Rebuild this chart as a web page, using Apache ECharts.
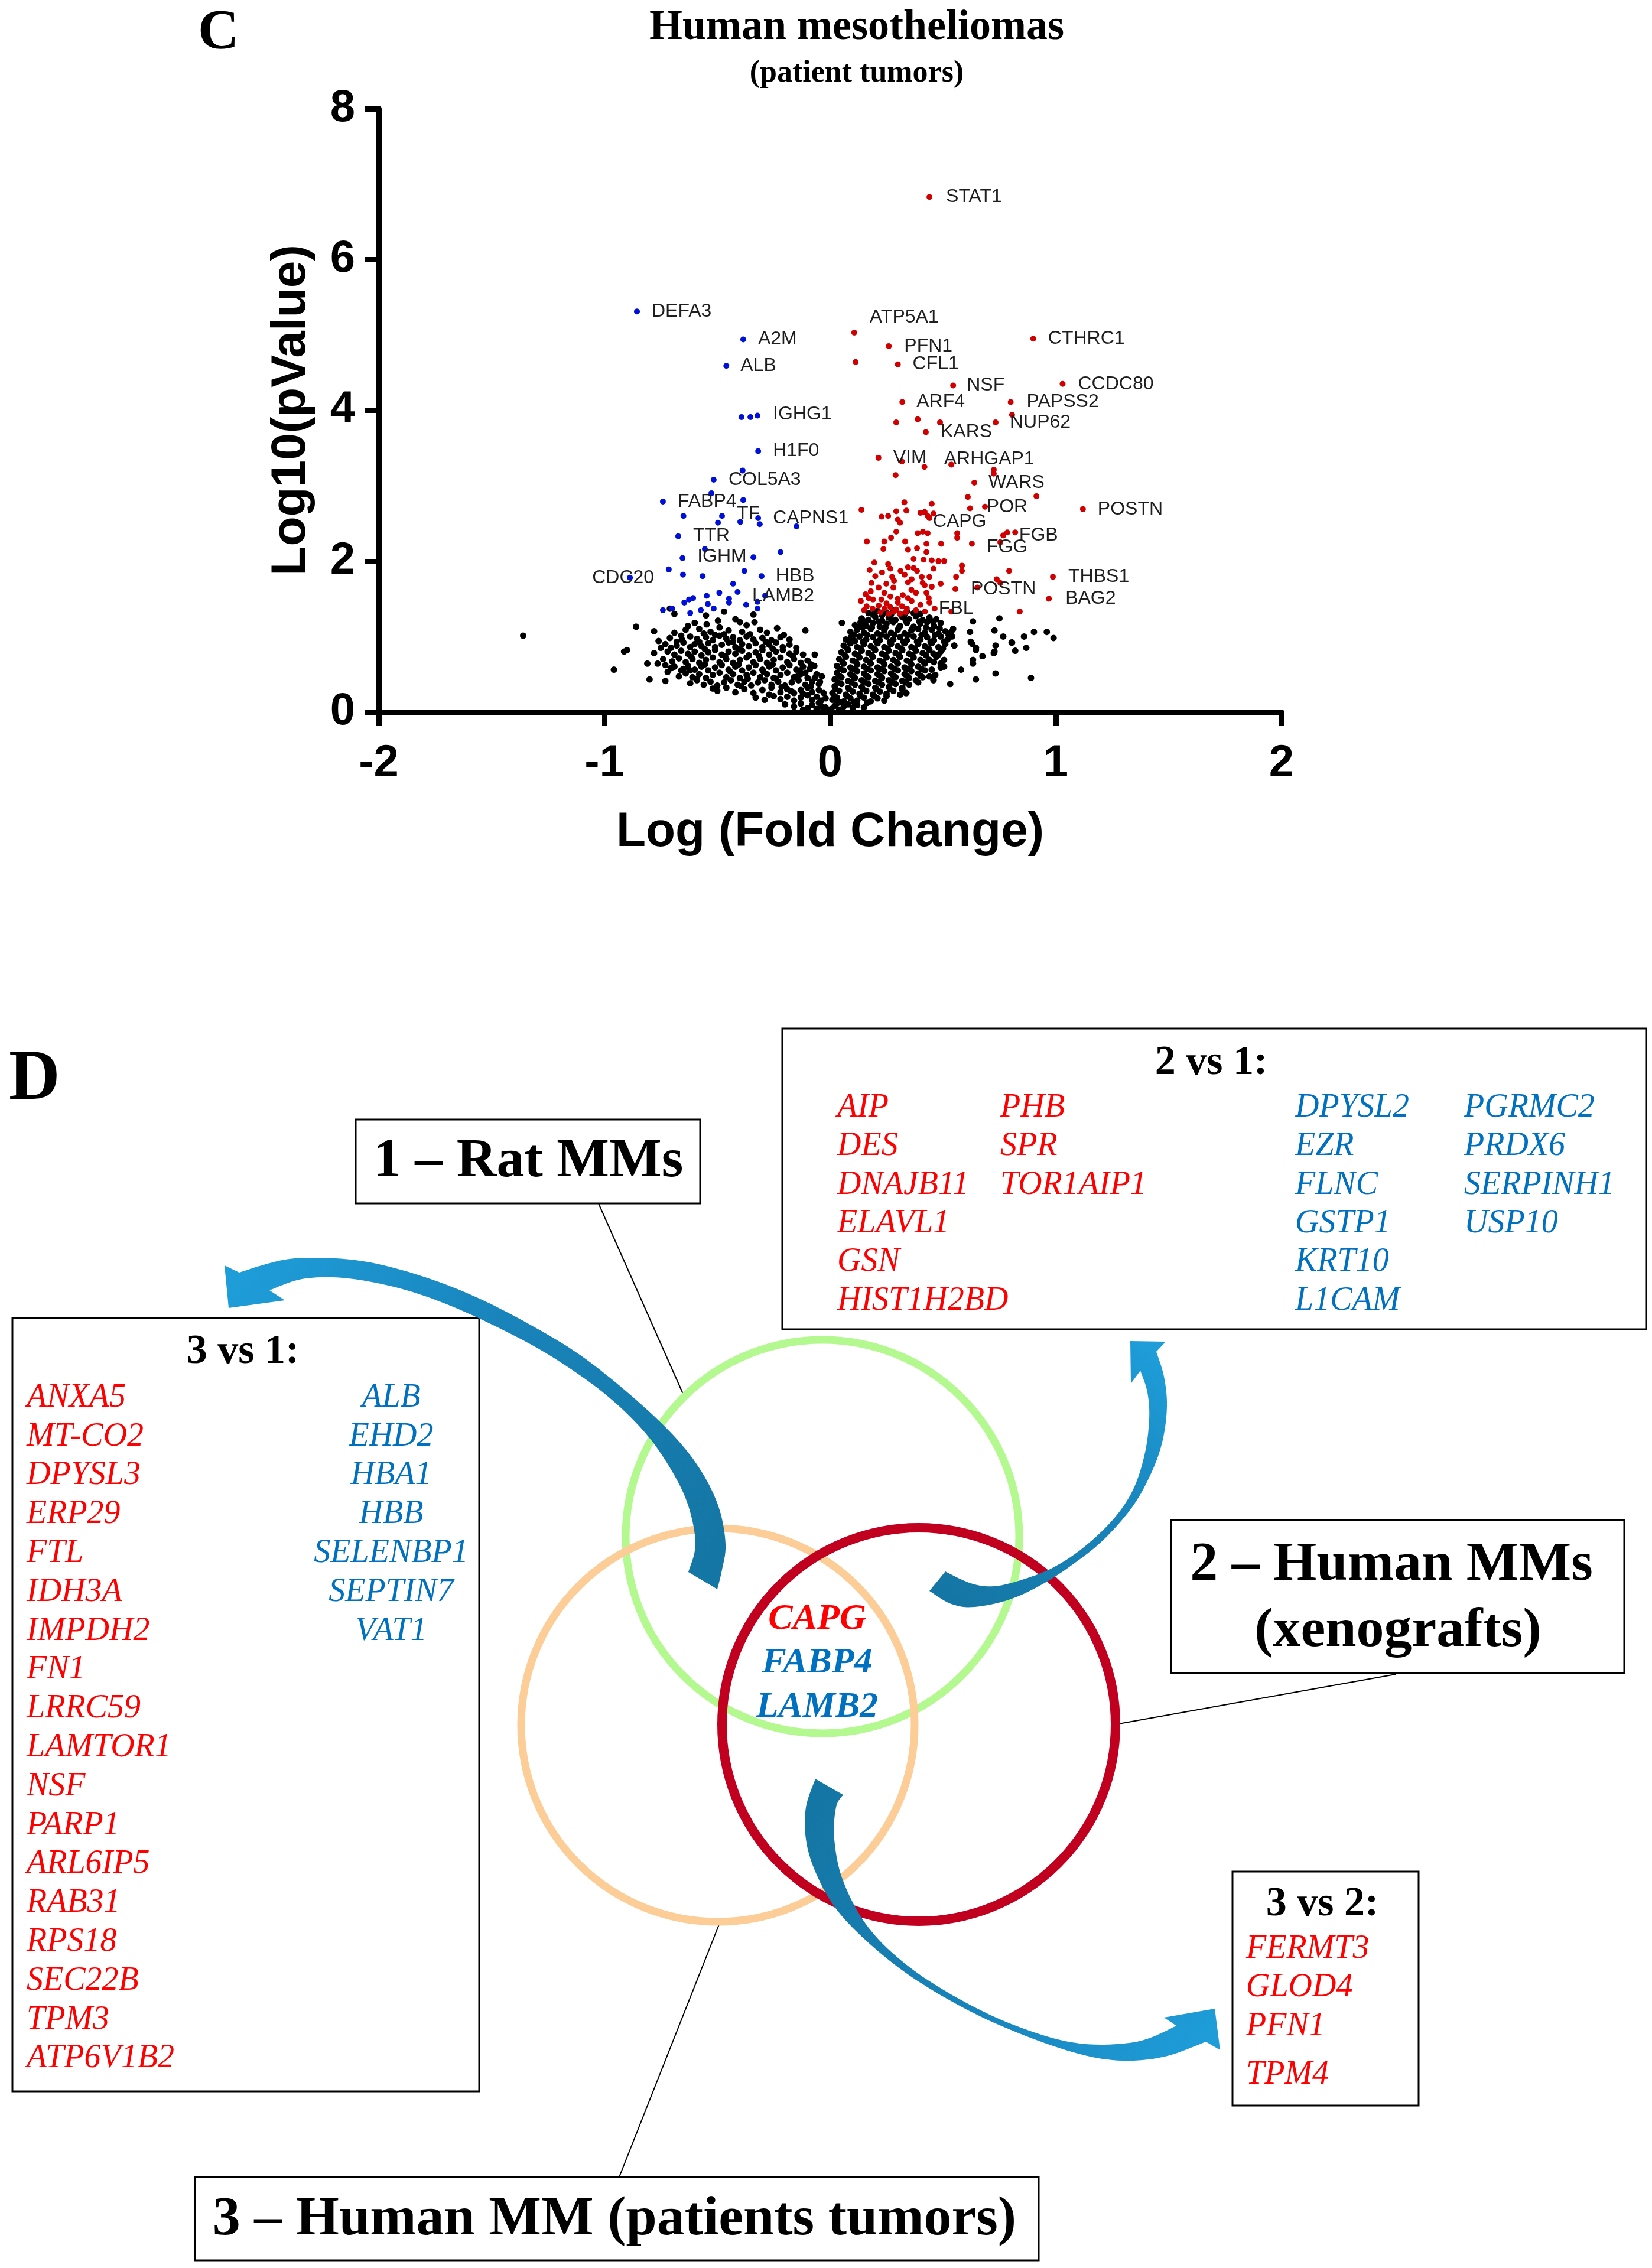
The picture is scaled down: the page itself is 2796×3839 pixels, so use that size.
<!DOCTYPE html>
<html><head><meta charset="utf-8">
<script src="https://cdn.jsdelivr.net/npm/echarts@6/dist/echarts.min.js"></script>
<style>html,body{margin:0;padding:0;background:#fff}#c{width:2796px;height:3839px}</style>
</head><body><div id="c"></div>
<script>
// ---------------- DATA ----------------
const xTicks = [-2, -1, 0, 1, 2];
const yTicks = [0, 2, 4, 6, 8];

// labelled up-regulated genes [name, logFC, -log10 p]
const upGenes = [['STAT1',0.44,6.83],['ATP5A1',0.107,5.03],['PFN1',0.26,4.85],['CTHRC1',0.90,4.95],['CFL1',0.30,4.61],['NSF',0.545,4.33],['CCDC80',1.03,4.35],['ARF4',0.32,4.11],['PAPSS2',0.80,4.11],['NUP62',0.733,3.84],['KARS',0.424,3.71],['VIM',0.214,3.37],['ARHGAP1',0.418,3.25],['WARS',0.639,3.04],['POR',0.62,2.70],['POSTN',1.12,2.69],['CAPG',0.40,2.64],['FGB',0.785,2.38],['FGG',0.628,2.23],['THBS1',0.987,1.79],['BAG2',0.969,1.50],['POSTN',0.555,1.63],['FBL',0.463,1.37]];
// labelled down-regulated genes
const downGenes = [['DEFA3',-0.856,5.31],['A2M',-0.385,4.94],['ALB',-0.46,4.59],['IGHG1',-0.322,3.93],['H1F0',-0.319,3.46],['COL5A3',-0.516,3.08],['FABP4',-0.741,2.79],['TF',-0.479,2.60],['CAPNS1',-0.319,2.57],['TTR',-0.673,2.33],['IGHM',-0.654,2.04],['HBB',-0.304,1.80],['CDC20',-0.887,1.78],['LAMB2',-0.322,1.46]];

// other significant up (red) points
const upPoints = [[0.113,4.64],[0.806,3.94],[0.293,3.84],[0.388,3.88],[0.487,3.84],[0.318,3.32],[0.537,3.28],[0.29,3.14],[0.725,3.21],[0.725,3.16],[0.914,2.86],[0.61,2.85],[0.329,2.78],[0.45,2.76],[0.139,2.68],[0.686,2.72],[0.293,2.66],[0.338,2.67],[0.228,2.59],[0.257,2.60],[0.30,2.55],[0.31,2.51],[0.419,2.65],[0.432,2.60],[0.458,2.63],[0.44,2.57],[0.293,2.39],[0.388,2.37],[0.411,2.39],[0.432,2.37],[0.563,2.37],[0.563,2.31],[0.163,2.26],[0.24,2.26],[0.27,2.31],[0.332,2.26],[0.427,2.23],[0.492,2.23],[0.767,2.34],[0.82,2.38],[0.754,2.25],[0.236,2.16],[0.345,2.15],[0.385,2.17],[0.427,2.12],[0.37,2.03],[0.414,2.02],[0.45,2.01],[0.48,2.0],[0.505,2.0],[0.196,1.98],[0.257,1.96],[0.267,1.90],[0.345,1.92],[0.37,1.91],[0.385,1.87],[0.584,1.94],[0.584,1.87],[0.175,1.88],[0.312,1.87],[0.458,1.90],[0.793,1.87],[0.275,1.79],[0.283,1.74],[0.406,1.79],[0.44,1.79],[0.558,1.79],[0.738,1.76],[0.754,1.71],[0.183,1.71],[0.215,1.65],[0.249,1.70],[0.28,1.65],[0.345,1.72],[0.361,1.76],[0.41,1.71],[0.419,1.68],[0.652,1.65],[0.157,1.56],[0.136,1.47],[0.17,1.51],[0.19,1.49],[0.227,1.49],[0.267,1.53],[0.30,1.50],[0.322,1.55],[0.345,1.51],[0.361,1.47],[0.38,1.58],[0.427,1.58],[0.437,1.51],[0.44,1.45],[0.537,1.33],[0.84,1.33],[0.162,1.40],[0.188,1.37],[0.215,1.41],[0.241,1.37],[0.267,1.39],[0.293,1.36],[0.319,1.40],[0.34,1.37],[0.223,1.32],[0.283,1.33],[0.335,1.32],[0.20,1.80],[0.23,1.85],[0.33,1.82],[0.36,1.62],[0.24,1.58],[0.30,1.45],[0.40,1.42],[0.25,1.44],[0.18,1.60],[0.45,1.66],[0.49,1.70],[0.15,1.35],[0.38,1.35],[0.42,1.33],[0.31,1.30],[0.26,1.30]];

// other significant down (blue) points
const downPoints = [[-0.393,3.91],[-0.353,3.91],[-0.388,3.20],[-0.526,2.90],[-0.385,2.81],[-0.65,2.60],[-0.497,2.51],[-0.398,2.52],[-0.312,2.49],[-0.149,2.46],[-0.555,2.16],[-0.22,2.12],[-0.34,2.05],[-0.715,1.89],[-0.652,1.82],[-0.565,1.80],[-0.38,1.87],[-0.43,1.70],[-0.41,1.59],[-0.491,1.58],[-0.547,1.54],[-0.607,1.51],[-0.625,1.49],[-0.646,1.45],[-0.448,1.50],[-0.448,1.45],[-0.288,1.54],[-0.322,1.37],[-0.542,1.43],[-0.516,1.37],[-0.372,1.42],[-0.70,1.37],[-0.741,1.35],[-0.573,1.35],[-0.62,1.31]];

// non-significant (black) points
const nsPoints = [
[-1.36,1.01],[-0.958,0.56],[-0.86,1.13],[-0.90,0.82],[-0.913,0.80],
[-0.69,1.30],[-0.71,1.37],[-0.55,1.28],[-0.42,1.23],[-0.34,1.29],[-0.47,1.33],
[-0.547,1.16],[-0.497,1.21],[-0.49,1.12],[-0.40,1.19],[-0.335,1.19],[-0.60,1.18],[-0.37,1.15],[-0.63,1.14],
[-0.78,1.07],[-0.235,1.11],[-0.11,1.08],[-0.69,1.05],[-0.64,1.09],[-0.58,1.10],[-0.53,1.06],[-0.45,1.08],[-0.39,1.06],[-0.31,1.09],[-0.28,1.05],[-0.56,1.04],[-0.47,1.03],
[-0.76,0.94],[-0.71,0.98],[-0.657,0.96],[-0.62,1.00],[-0.59,0.97],[-0.55,0.99],[-0.52,0.95],[-0.49,1.01],[-0.46,0.97],[-0.43,0.99],[-0.40,0.95],[-0.37,1.00],[-0.34,0.96],[-0.30,0.98],[-0.26,0.95],[-0.22,0.99],[-0.18,0.96],
[-0.75,0.85],[-0.73,0.90],[-0.68,0.88],[-0.65,0.92],[-0.62,0.86],[-0.60,0.90],[-0.57,0.87],[-0.54,0.91],[-0.51,0.86],[-0.48,0.89],[-0.45,0.92],[-0.42,0.86],[-0.39,0.90],[-0.36,0.87],[-0.33,0.91],[-0.30,0.86],[-0.27,0.89],[-0.24,0.92],[-0.21,0.86],[-0.18,0.89],[-0.15,0.85],
[-0.78,0.78],[-0.72,0.80],[-0.69,0.76],[-0.66,0.81],[-0.63,0.77],[-0.60,0.80],[-0.57,0.75],[-0.54,0.79],[-0.51,0.82],[-0.48,0.76],[-0.45,0.80],[-0.42,0.77],[-0.39,0.81],[-0.36,0.75],[-0.33,0.79],[-0.30,0.82],[-0.27,0.76],[-0.24,0.80],[-0.21,0.82],[-0.18,0.77],[-0.15,0.80],[-0.12,0.76],[-0.068,0.76],
[-0.81,0.64],[-0.764,0.64],[-0.74,0.70],[-0.70,0.67],[-0.67,0.71],[-0.64,0.66],[-0.61,0.70],[-0.58,0.65],[-0.55,0.69],[-0.52,0.72],[-0.49,0.66],[-0.46,0.70],[-0.43,0.65],[-0.40,0.69],[-0.37,0.72],[-0.34,0.66],[-0.31,0.70],[-0.28,0.65],[-0.25,0.69],[-0.22,0.72],[-0.19,0.66],[-0.16,0.70],[-0.13,0.65],[-0.10,0.68],
[-0.72,0.53],[-0.65,0.57],[-0.69,0.60],[-0.66,0.55],[-0.63,0.61],[-0.60,0.56],[-0.57,0.60],[-0.54,0.55],[-0.51,0.59],[-0.48,0.62],[-0.45,0.56],[-0.42,0.60],[-0.39,0.55],[-0.36,0.59],[-0.33,0.62],[-0.30,0.56],[-0.27,0.60],[-0.24,0.55],[-0.21,0.59],[-0.18,0.62],[-0.15,0.56],[-0.12,0.60],[-0.11,0.52],[-0.09,0.57],[-0.07,0.61],
[-0.80,0.43],[-0.73,0.41],[-0.67,0.47],[-0.64,0.51],[-0.61,0.46],[-0.58,0.50],[-0.55,0.45],[-0.52,0.49],[-0.49,0.52],[-0.46,0.46],[-0.43,0.50],[-0.40,0.45],[-0.37,0.49],[-0.34,0.52],[-0.31,0.46],[-0.28,0.50],[-0.25,0.45],[-0.22,0.49],[-0.19,0.52],[-0.16,0.46],[-0.13,0.50],[-0.10,0.45],[-0.068,0.45],[-0.037,0.47],[-0.06,0.50],
[-0.62,0.38],[-0.59,0.42],[-0.56,0.36],[-0.53,0.40],[-0.50,0.35],[-0.47,0.39],[-0.44,0.42],[-0.41,0.36],[-0.38,0.40],[-0.35,0.35],[-0.32,0.39],[-0.29,0.42],[-0.26,0.36],[-0.23,0.40],[-0.20,0.35],[-0.17,0.39],[-0.14,0.42],[-0.11,0.36],[-0.08,0.40],[-0.05,0.37],
[-0.50,0.28],[-0.46,0.32],[-0.42,0.26],[-0.38,0.30],[-0.34,0.25],[-0.30,0.29],[-0.26,0.32],[-0.22,0.26],[-0.19,0.30],[-0.16,0.25],[-0.13,0.29],[-0.10,0.32],[-0.08,0.26],[-0.05,0.29],[-0.029,0.25],
[-0.33,0.19],[-0.29,0.16],[-0.25,0.21],[-0.22,0.17],[-0.19,0.20],[-0.16,0.15],[-0.13,0.19],[-0.10,0.22],[-0.08,0.16],[-0.06,0.20],[-0.04,0.15],[-0.02,0.18],
[-0.20,0.10],[-0.16,0.07],[-0.13,0.11],[-0.10,0.05],[-0.08,0.09],[-0.06,0.04],[-0.04,0.08],[-0.03,0.03],[-0.02,0.06],[-0.01,0.02],[-0.12,0.03],
[-0.705,0.85],[-0.555,0.83],[-0.405,0.83],[-0.255,0.84],[-0.615,0.73],[-0.465,0.74],[-0.315,0.74],[-0.165,0.74],[-0.705,0.58],[-0.555,0.63],[-0.405,0.63],[-0.255,0.63],[-0.135,0.55],[-0.59,0.44],[-0.445,0.54],[-0.295,0.53],[-0.145,0.47],[-0.085,0.34],[-0.215,0.33],[-0.365,0.44],[-0.52,0.31],[-0.27,0.23],[-0.12,0.24],[-0.05,0.12],[-0.66,1.01],[-0.51,1.02],[-0.355,1.03],[-0.205,1.02],[-0.58,0.93],[-0.43,0.93],[-0.285,0.93],[-0.62,0.55],[-0.085,0.63],[-0.045,0.40],[-0.175,0.28],[-0.24,0.44],[-0.395,0.34],[-0.68,0.93],[-0.73,0.62],
[0.17,1.31],[0.21,1.34],[0.25,1.32],[0.28,1.35],[0.31,1.30],[0.34,1.33],[0.37,1.31],[0.23,1.28],
[0.19,1.29],[0.27,1.29],[0.33,1.29],[0.40,1.30],
[0.14,1.24],[0.17,1.22],[0.20,1.26],[0.23,1.21],[0.26,1.25],[0.29,1.22],[0.32,1.26],[0.35,1.23],[0.38,1.27],[0.41,1.22],[0.44,1.25],[0.47,1.23],
[0.155,1.20],[0.215,1.20],[0.275,1.21],[0.335,1.21],[0.395,1.20],[0.455,1.20],
[0.052,1.18],[0.11,1.15],[0.135,1.19],[0.16,1.14],[0.19,1.18],[0.22,1.13],[0.25,1.17],[0.28,1.19],[0.31,1.14],[0.34,1.18],[0.37,1.13],[0.40,1.17],[0.43,1.19],[0.46,1.14],[0.49,1.18],[0.144,1.12],
[0.125,1.12],[0.185,1.12],[0.245,1.12],[0.305,1.12],[0.365,1.11],[0.425,1.12],[0.485,1.11],
[0.09,1.06],[0.12,1.09],[0.15,1.05],[0.18,1.10],[0.21,1.04],[0.24,1.08],[0.27,1.05],[0.30,1.09],[0.33,1.04],[0.36,1.08],[0.39,1.10],[0.42,1.05],[0.45,1.09],[0.48,1.04],[0.51,1.07],[0.545,1.10],[0.537,1.06],
[0.105,1.02],[0.165,1.02],[0.225,1.02],[0.285,1.02],[0.345,1.02],[0.405,1.02],[0.465,1.02],[0.525,1.02],
[0.07,0.96],[0.092,0.99],[0.11,0.94],[0.13,1.00],[0.16,0.96],[0.19,0.99],[0.22,0.95],[0.25,1.00],[0.28,0.96],[0.31,0.99],[0.34,0.95],[0.37,1.00],[0.40,0.96],[0.43,0.99],[0.46,0.95],[0.49,1.00],[0.52,0.96],[0.54,1.00],
[0.085,0.93],[0.145,0.93],[0.205,0.93],[0.265,0.93],[0.325,0.93],[0.385,0.93],[0.445,0.93],[0.505,0.93],
[0.06,0.88],[0.09,0.91],[0.12,0.86],[0.15,0.90],[0.18,0.87],[0.21,0.91],[0.24,0.86],[0.27,0.90],[0.30,0.87],[0.33,0.91],[0.36,0.86],[0.39,0.90],[0.42,0.87],[0.45,0.91],[0.48,0.86],[0.51,0.90],[0.55,0.88],
[0.075,0.84],[0.135,0.84],[0.195,0.84],[0.255,0.84],[0.315,0.84],[0.375,0.84],[0.435,0.84],[0.50,0.84],
[0.05,0.79],[0.08,0.82],[0.11,0.77],[0.14,0.81],[0.17,0.78],[0.20,0.82],[0.23,0.77],[0.26,0.81],[0.29,0.78],[0.32,0.82],[0.35,0.77],[0.38,0.81],[0.41,0.78],[0.44,0.82],[0.458,0.77],[0.49,0.80],
[0.065,0.75],[0.125,0.75],[0.185,0.75],[0.245,0.75],[0.305,0.75],[0.365,0.75],[0.425,0.75],[0.48,0.76],
[0.04,0.70],[0.07,0.73],[0.10,0.68],[0.13,0.72],[0.16,0.69],[0.19,0.73],[0.22,0.68],[0.25,0.72],[0.28,0.69],[0.31,0.73],[0.34,0.68],[0.37,0.72],[0.40,0.69],[0.44,0.69],[0.47,0.73],[0.505,0.69],
[0.055,0.66],[0.115,0.66],[0.175,0.66],[0.235,0.66],[0.295,0.66],[0.355,0.66],[0.415,0.66],[0.46,0.66],
[0.03,0.61],[0.06,0.64],[0.09,0.59],[0.12,0.63],[0.15,0.60],[0.18,0.64],[0.21,0.59],[0.24,0.63],[0.27,0.60],[0.30,0.64],[0.33,0.59],[0.36,0.63],[0.39,0.60],[0.42,0.64],[0.49,0.64],[0.497,0.60],
[0.045,0.57],[0.105,0.57],[0.165,0.57],[0.225,0.57],[0.285,0.57],[0.345,0.57],[0.405,0.57],
[0.03,0.52],[0.06,0.55],[0.09,0.50],[0.12,0.54],[0.15,0.51],[0.18,0.55],[0.21,0.50],[0.24,0.54],[0.27,0.51],[0.30,0.55],[0.33,0.50],[0.36,0.54],[0.39,0.51],[0.42,0.55],[0.45,0.56],[0.466,0.49],
[0.04,0.48],[0.10,0.48],[0.16,0.48],[0.22,0.48],[0.28,0.48],[0.34,0.48],[0.40,0.48],[0.44,0.47],
[0.02,0.43],[0.05,0.46],[0.08,0.41],[0.11,0.45],[0.14,0.42],[0.17,0.46],[0.20,0.41],[0.23,0.45],[0.26,0.42],[0.29,0.46],[0.32,0.41],[0.35,0.45],[0.38,0.42],[0.458,0.43],[0.41,0.46],
[0.035,0.39],[0.095,0.39],[0.155,0.39],[0.215,0.39],[0.275,0.39],[0.335,0.39],[0.39,0.39],
[0.02,0.34],[0.05,0.37],[0.08,0.32],[0.11,0.36],[0.14,0.33],[0.17,0.37],[0.20,0.32],[0.23,0.36],[0.26,0.33],[0.29,0.37],[0.32,0.32],[0.35,0.36],
[0.025,0.30],[0.085,0.30],[0.145,0.30],[0.205,0.30],[0.265,0.30],[0.32,0.30],
[0.01,0.25],[0.04,0.28],[0.07,0.23],[0.10,0.27],[0.13,0.24],[0.16,0.28],[0.19,0.23],[0.22,0.27],[0.25,0.24],[0.28,0.28],[0.31,0.23],[0.338,0.25],
[0.02,0.21],[0.075,0.21],[0.135,0.21],[0.195,0.21],[0.25,0.21],
[0.01,0.16],[0.03,0.19],[0.06,0.14],[0.09,0.18],[0.12,0.15],[0.15,0.19],[0.18,0.14],[0.21,0.18],[0.24,0.15],
[0.045,0.13],[0.105,0.13],[0.165,0.12],
[0.005,0.04],[0.02,0.08],[0.04,0.03],[0.06,0.07],[0.08,0.10],[0.10,0.05],[0.12,0.09],[0.15,0.06],[0.03,0.11],
[0.633,1.20],[0.75,1.24],[0.62,1.06],[0.623,0.93],[0.646,0.85],[0.675,0.74],[0.728,1.08],[0.767,1.00],[0.804,0.92],[0.82,0.81],[0.728,0.80],[0.733,0.88],[0.859,1.00],[0.903,1.06],[0.869,0.85],[0.96,1.06],[0.99,0.98],[0.633,0.69],[0.633,0.64],[0.58,0.56],[0.733,0.51],[0.646,0.43],[0.532,0.37],[0.89,0.45],[0.55,0.88],[0.49,0.59],[0.44,0.69],[0.63,0.90],[0.646,0.82],[0.725,0.78],[0.806,0.92],[0.505,0.60],[0.458,0.42],[0.335,0.25]
];

// Venn-diagram gene lists
const list21Red1 = ['AIP','DES','DNAJB11','ELAVL1','GSN','HIST1H2BD'];
const list21Red2 = ['PHB','SPR','TOR1AIP1'];
const list21Blue1 = ['DPYSL2','EZR','FLNC','GSTP1','KRT10','L1CAM'];
const list21Blue2 = ['PGRMC2','PRDX6','SERPINH1','USP10'];
const list31Red = ['ANXA5','MT-CO2','DPYSL3','ERP29','FTL','IDH3A','IMPDH2','FN1','LRRC59','LAMTOR1','NSF','PARP1','ARL6IP5','RAB31','RPS18','SEC22B','TPM3','ATP6V1B2'];
const list31Blue = ['ALB','EHD2','HBA1','HBB','SELENBP1','SEPTIN7','VAT1'];
const list32Red = ['FERMT3','GLOD4','PFN1','TPM4'];
const centerGenes = [['CAPG','up'],['FABP4','down'],['LAMB2','down']];
const setNames = ['1 \u2013 Rat MMs', '2 \u2013 Human MMs', '(xenografts)', '3 \u2013 Human MM (patients tumors)'];
const boxTitles = ['2 vs 1:', '3 vs 1:', '3 vs 2:'];

// ---------------- STYLE / LAYOUT ----------------
const SANS = '"Liberation Sans", Arial, sans-serif';
const SERIF = '"Liberation Serif", "Times New Roman", serif';
const RED = '#ff0000', BLUE = '#0070c0';
const upLabelOffsets = [[28,0],[26,-26],[26,0],[25,0],[25,0],[23,0],[26,0],[24,0],[27,0],[24,0],[25,0],[25,0],[33,-13],[24,0],[28,-2],[25,0],[21,15],[20,5],[25,6],[26,0],[28,0],[26,0],[7,0]];
const downLabelOffsets = [[25,0],[25,0],[24,0],[26,-2],[25,0],[25,0],[25,0],[25,-3],[25,0],[25,0],[25,-2],[24,0],[-64,0],[-9,-9]];

function labelled(list, offs) {
  return list.map((g, i) => ({
    name: g[0], value: [g[1], g[2]],
    label: { show: true, formatter: g[0], position: 'right', distance: 0,
      offset: [offs[i][0] - 5, offs[i][1]], fontFamily: SANS, fontSize: 32, color: '#1e1e1e' }
  }));
}

function txt(s, x, y, opt) {
  opt = opt || {};
  return { type: 'text', x: x, y: y, z: opt.z || 20, silent: true,
    style: { text: s, x: 0, y: 0, fill: opt.color || '#000',
      font: (opt.style || 'normal') + ' ' + (opt.weight || 'normal') + ' ' + (opt.size || 56) + 'px ' + (opt.family || SERIF),
      align: opt.align || 'left', textAlign: opt.align || 'left',
      verticalAlign: 'middle', textVerticalAlign: 'middle' } };
}
function rect(x, y, w, h) {
  return { type: 'rect', z: 5, silent: true, shape: { x: x, y: y, width: w, height: h },
    style: { fill: '#fff', stroke: '#000', lineWidth: 3 } };
}
function line(x1, y1, x2, y2) {
  return { type: 'line', z: 4, silent: true, shape: { x1: x1, y1: y1, x2: x2, y2: y2 },
    style: { stroke: '#000', lineWidth: 2 } };
}
function ring(cx, cy, r, color, w) {
  return { type: 'circle', z: 6, silent: true, shape: { cx: cx, cy: cy, r: r },
    style: { fill: 'none', stroke: color, lineWidth: w } };
}
function smooth(pts, n) {
  const out = [];
  for (let i = 0; i < pts.length - 1; i++) {
    const p0 = pts[Math.max(i - 1, 0)], p1 = pts[i], p2 = pts[i + 1], p3 = pts[Math.min(i + 2, pts.length - 1)];
    for (let t = 0; t < n; t++) {
      const s = t / n, s2 = s * s, s3 = s2 * s;
      const f = k => 0.5 * (2 * p1[k] + (-p0[k] + p2[k]) * s + (2 * p0[k] - 5 * p1[k] + 4 * p2[k] - p3[k]) * s2 + (-p0[k] + 3 * p1[k] - 3 * p2[k] + p3[k]) * s3);
      out.push([f(0), f(1)]);
    }
  }
  out.push(pts[pts.length - 1]);
  return out;
}
function arrow(points, hx, hy, tx, ty) {
  return { type: 'polygon', z: 10, silent: true, shape: { points: points },
    style: { fill: new echarts.graphic.LinearGradient(hx, hy, tx, ty, [
      { offset: 0, color: '#1e9dd9' }, { offset: 0.45, color: '#1984bb' }, { offset: 1, color: '#1476a4' }], true) } };
}

// arrow outlines (screen geometry)
const aOuter = [[405,2154],[453,2139],[499,2130],[568,2130],[637,2139],[723,2163],[809,2197],[895,2241],[981,2293],[1068,2362],[1142,2432],[1188,2492],[1217,2553],[1228,2614],[1222,2657],[1214,2690]];
const aInner = [[1165,2661],[1177,2614],[1165,2549],[1136,2488],[1090,2423],[1022,2358],[935,2297],[849,2250],[752,2206],[666,2178],[580,2163],[511,2165],[456,2184]];
const polyA = [...smooth(aOuter, 8), ...smooth(aInner, 8), [482,2201],[387,2214],[380,2142]];
const bOuter = [[1957,2288],[1970,2330],[1975,2380],[1968,2437],[1950,2490],[1917,2550],[1867,2607],[1817,2647],[1767,2680],[1710,2707],[1650,2720],[1610,2715],[1573,2693]];
const bInner = [[1600,2660],[1643,2680],[1683,2685],[1733,2673],[1783,2653],[1833,2620],[1883,2573],[1917,2523],[1937,2463],[1945,2403],[1942,2357],[1930,2320]];
const polyB = [[1913,2270],[1973,2271], ...smooth(bOuter, 8), ...smooth(bInner, 8), [1914,2342]];
const cOuter = [[1380,3011],[1364,3059],[1364,3113],[1379,3166],[1412,3227],[1465,3284],[1541,3345],[1637,3402],[1733,3445],[1828,3477],[1900,3488],[1972,3481],[2041,3456]];
const cInner = [[1991,3429],[1924,3456],[1828,3459],[1733,3434],[1637,3391],[1541,3331],[1470,3263],[1427,3184],[1412,3113],[1415,3059],[1427,3038]];
const polyC = [...smooth(cOuter, 8), [2065,3470],[2056,3400],[1970,3415], ...smooth(cInner, 8)];

const g = [];
g.push(ring(1392, 2601, 333, '#b4f98f', 13));
g.push(ring(1215, 2920, 333, '#fdcd98', 13));
g.push(ring(1555, 2919, 333, '#c1001f', 16));
g.push(line(1013, 2037, 1159, 2366));
g.push(line(2362, 2834, 1893, 2918));
g.push(line(1048, 3685, 1218, 3255));
g.push(rect(1324, 1741, 1462, 509));
g.push(rect(602, 1895, 583, 142));
g.push(rect(21, 2231, 790, 1309));
g.push(rect(1982, 2573, 767, 259));
g.push(rect(2086, 3168, 315, 396));
g.push(rect(330, 3685, 1428, 141));
g.push(arrow(polyA, 390, 2180, 1200, 2660));
g.push(arrow(polyB, 1940, 2280, 1590, 2690));
g.push(arrow(polyC, 2050, 3440, 1395, 3030));
g.push(txt(setNames[0], 894, 1967, { size: 94, weight: 'bold', align: 'center' }));
g.push(txt(setNames[1], 2355, 2650, { size: 94, weight: 'bold', align: 'center' }));
g.push(txt(setNames[2], 2366, 2762, { size: 94, weight: 'bold', align: 'center' }));
g.push(txt(setNames[3], 1040, 3758, { size: 94, weight: 'bold', align: 'center' }));
g.push(txt(boxTitles[0], 2050, 1800, { size: 70, weight: 'bold', align: 'center' }));
g.push(txt(boxTitles[1], 411, 2289, { size: 70, weight: 'bold', align: 'center' }));
g.push(txt(boxTitles[2], 2238, 3224, { size: 70, weight: 'bold', align: 'center' }));
const r21 = 65.4, y21 = 1875;
list21Red1.forEach((s, i) => g.push(txt(s, 1417, y21 + i * r21, { style: 'italic', color: RED })));
list21Red2.forEach((s, i) => g.push(txt(s, 1693, y21 + i * r21, { style: 'italic', color: RED })));
list21Blue1.forEach((s, i) => g.push(txt(s, 2192, y21 + i * r21, { style: 'italic', color: BLUE })));
list21Blue2.forEach((s, i) => g.push(txt(s, 2478, y21 + i * r21, { style: 'italic', color: BLUE })));
const r31 = 65.8, y31 = 2366;
list31Red.forEach((s, i) => g.push(txt(s, 45, y31 + i * r31, { style: 'italic', color: RED })));
list31Blue.forEach((s, i) => g.push(txt(s, 662, y31 + i * r31, { style: 'italic', color: BLUE, align: 'center' })));
const y32 = [3299, 3364, 3430, 3512];
list32Red.forEach((s, i) => g.push(txt(s, 2109, y32[i], { style: 'italic', color: RED })));
const yC = [2741, 2815, 2890];
centerGenes.forEach((c, i) => g.push(txt(c[0], 1383, yC[i], { style: 'italic', weight: 'bold', size: 62, color: c[1] === 'up' ? RED : BLUE, align: 'center', z: 30 })));

const chart = echarts.init(document.getElementById('c'), null, { renderer: 'canvas', width: 2796, height: 3839 });
chart.setOption({
  animation: false,
  backgroundColor: '#ffffff',
  title: [
    { text: 'Human mesotheliomas', left: 1445, top: 6, textAlign: 'center', textStyle: { fontFamily: SERIF, fontWeight: 'bold', fontSize: 72, color: '#000' } },
    { text: '(patient tumors)', left: 1445, top: 94, textAlign: 'center', textStyle: { fontFamily: SERIF, fontWeight: 'bold', fontSize: 52, color: '#000' } },
    { text: 'C', left: 330, top: 4, textStyle: { fontFamily: SERIF, fontWeight: 'bold', fontSize: 96, color: '#000' } },
    { text: 'D', left: 10, top: 1764, textStyle: { fontFamily: SERIF, fontWeight: 'bold', fontSize: 120, color: '#000' } }
  ],
  grid: { left: 641, right: 627, top: 184, bottom: 2634, containLabel: false },
  xAxis: {
    type: 'value', min: xTicks[0], max: xTicks[xTicks.length - 1], interval: 1,
    splitLine: { show: false },
    axisLine: { onZero: true, lineStyle: { color: '#000', width: 9 } },
    axisTick: { length: 24, lineStyle: { color: '#000', width: 9 } },
    axisLabel: { fontFamily: SANS, fontWeight: 'bold', fontSize: 76, color: '#000', margin: 50 },
    name: 'Log (Fold Change)', nameLocation: 'middle', nameGap: 163,
    nameTextStyle: { fontFamily: SANS, fontWeight: 'bold', fontSize: 82, color: '#000' }
  },
  yAxis: {
    type: 'value', min: yTicks[0], max: yTicks[yTicks.length - 1], interval: 2,
    splitLine: { show: false },
    axisLine: { onZero: false, lineStyle: { color: '#000', width: 9 } },
    axisTick: { length: 24, lineStyle: { color: '#000', width: 9 } },
    axisLabel: { fontFamily: SANS, fontWeight: 'bold', fontSize: 76, color: '#000', margin: 40 },
    name: 'Log10(pValue)', nameLocation: 'middle', nameGap: 107,
    nameTextStyle: { fontFamily: SANS, fontWeight: 'bold', fontSize: 82, color: '#000' }
  },
  series: [
    { name: 'Not significant', type: 'scatter', symbol: 'circle', symbolSize: 11, itemStyle: { color: '#000', opacity: 1 }, data: nsPoints, z: 2 },
    { name: 'Down', type: 'scatter', symbol: 'circle', symbolSize: 10, itemStyle: { color: '#0010d8', opacity: 1 }, data: downPoints, z: 3 },
    { name: 'Up', type: 'scatter', symbol: 'circle', symbolSize: 10, itemStyle: { color: '#d00000', opacity: 1 }, data: upPoints, z: 3 },
    { name: 'Down labelled', type: 'scatter', symbol: 'circle', symbolSize: 10, itemStyle: { color: '#0010d8', opacity: 1 }, data: labelled(downGenes, downLabelOffsets), z: 4 },
    { name: 'Up labelled', type: 'scatter', symbol: 'circle', symbolSize: 10, itemStyle: { color: '#d00000', opacity: 1 }, data: labelled(upGenes, upLabelOffsets), z: 4 }
  ],
  graphic: { elements: g }
});
</script></body></html>
